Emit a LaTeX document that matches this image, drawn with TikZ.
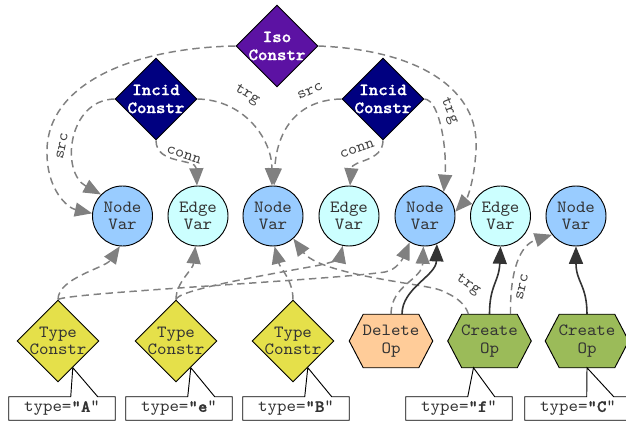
\documentclass[tikz,border=0pt]{standalone}
\usepackage{fontspec}
\setmonofont{lmmono10-regular.otf}[FakeStretch=1.06, BoldFont=lmmonolt10-bold.otf,
  BoldFeatures={FakeBold=1.2}]
\usetikzlibrary{shapes.geometric,arrows.meta,calc,backgrounds}

\definecolor{isoC}{HTML}{5C12A3}
\definecolor{incC}{HTML}{000080}
\definecolor{nodeC}{HTML}{99CCFF}
\definecolor{edgeC}{HTML}{CCFFFF}
\definecolor{typeC}{HTML}{E5E04A}
\definecolor{delC}{HTML}{FFCC99}
\definecolor{creC}{HTML}{9BBB59}
\definecolor{lineC}{HTML}{808080}
\definecolor{darkC}{HTML}{333333}
\definecolor{txtC}{HTML}{333333}
\definecolor{elabC}{HTML}{404040}

\tikzset{
  base/.style={font=\ttfamily\fontsize{12.8}{13.2}\selectfont, text=txtC},
  var/.style={circle, draw=black, line width=0.7pt, minimum size=45pt,
    inner sep=0pt, align=center, base},
  nvar/.style={var, fill=nodeC},
  evar/.style={var, fill=edgeC},
  cons/.style={diamond, draw=black, line width=0.7pt, minimum width=61.5pt,
    minimum height=61.5pt, inner sep=-6pt, align=center, base},
  boldcons/.style={cons, text=white,
    font=\ttfamily\bfseries\fontsize{12.8}{13.5}\selectfont},
  isoc/.style={boldcons, fill=isoC},
  incid/.style={boldcons, fill=incC},
  typec/.style={cons, fill=typeC},
  opnode/.style={rectangle, minimum width=62.25pt, minimum height=39.75pt,
    inner sep=0pt, align=center, base},
  hexline/.style={draw=black, line width=0.7pt},
  tagbox/.style={rectangle, minimum width=79.5pt, minimum height=17.25pt,
    inner sep=0pt, base},
  tagline/.style={draw=black, line width=0.7pt, fill=white},
  tip/.style={-{Triangle[length=13pt,width=10.5pt]}},
  ref/.style={draw=lineC, line width=1.1pt, dash pattern=on 5.5pt off 3.5pt, tip},
  act/.style={draw=darkC, line width=1.2pt, tip},
  elab/.style={font=\ttfamily\fontsize{12}{12}\selectfont, text=elabC, inner sep=1pt},
}

\begin{document}
\begin{tikzpicture}[x=0.75pt, y=-0.75pt]
\useasboundingbox (0,0) rectangle (626,424);

% constraints
\node[isoc]  (iso) at (277,46) {Iso\\Constr};
\node[incid] (ic1) at (156,99) {Incid\\Constr};
\node[incid] (ic2) at (383,99) {Incid\\Constr};

% variables
\node[nvar] (nv1) at (122.5,216) {Node\\Var};
\node[evar] (ev2) at (198,216)   {Edge\\Var};
\node[nvar] (nv3) at (273,216)   {Node\\Var};
\node[evar] (ev4) at (349,216)   {Edge\\Var};
\node[nvar] (nv5) at (425,216)   {Node\\Var};
\node[evar] (ev6) at (500.5,216) {Edge\\Var};
\node[nvar] (nv7) at (576,216)   {Node\\Var};

% type constraints and operations
\node[typec] (tc1) at (58,341)  {Type\\Constr};
\node[typec] (tc2) at (176,341) {Type\\Constr};
\node[typec] (tc3) at (293,341) {Type\\Constr};
\node[opnode] (do)  at (391,341)   {Delete\\Op};
\node[opnode] (co1) at (489.5,341) {Create\\Op};
\node[opnode] (co2) at (587,341)   {Create\\Op};

% type tags
\node[tagbox] (bA) at (62,408.5)  {type=\textbf{"A}"};
\node[tagbox] (be) at (179,408.5) {type=\textbf{"e}"};
\node[tagbox] (bB) at (296,408.5) {type=\textbf{"B}"};
\node[tagbox] (bf) at (459,408.5) {type=\textbf{"f}"};
\node[tagbox] (bC) at (578,408.5) {type=\textbf{"C}"};

\coordinate (tA) at (tc1.-61);
\coordinate (te) at (tc2.-61);
\coordinate (tB) at (tc3.-61);
\coordinate (tf) at ($(co1.south)+(-16,0)$);
\coordinate (tC) at (co2.south);

\begin{scope}[on background layer]
  \fill[white] (0,0) rectangle (626,424);
  \draw[hexline, fill=delC] (do.west) -- ($(do.north west)+(14,0)$) -- ($(do.north east)+(-14,0)$)
    -- (do.east) -- ($(do.south east)+(-14,0)$) -- ($(do.south west)+(14,0)$) -- cycle;
  \draw[hexline, fill=creC] (co1.west) -- ($(co1.north west)+(14,0)$) -- ($(co1.north east)+(-14,0)$)
    -- (co1.east) -- ($(co1.south east)+(-14,0)$) -- ($(co1.south west)+(14,0)$) -- cycle;
  \draw[hexline, fill=creC] (co2.west) -- ($(co2.north west)+(14,0)$) -- ($(co2.north east)+(-14,0)$)
    -- (co2.east) -- ($(co2.south east)+(-14,0)$) -- ($(co2.south west)+(14,0)$) -- cycle;
  \foreach \b/\t in {bA/tA, be/te, bB/tB, bf/tf, bC/tC}
    \draw[tagline] ($(\b.north west)+(62,0)$) -- (\b.north west) -- (\b.south west)
      -- (\b.south east) -- (\b.north east) -- ($(\b.north west)+(89,0)$) -- (\t) -- cycle;
\end{scope}

% isomorphism constraint
\draw[ref] (iso.west) .. controls (130,48) and (48,85) .. (47,150)
  .. controls (46,190) and (68,208) .. (nv1.175);
\draw[ref] (iso.east) .. controls (420,50) and (480,90) .. (476,150)
  .. controls (474,185) and (466,200) .. (nv5.8);

% incidence constraints
\draw[ref] (ic1.west) .. controls (68,100) and (60,172) .. (nv1.135);
\draw[ref] (ic1.east) .. controls (245,100) and (272,140) .. (nv3.92);
\draw[ref] (ic1.south) .. controls (156,165) and (196,158) .. (ev2.92);
\draw[ref] (ic2.west) .. controls (290,100) and (276,140) .. (nv3.88);
\draw[ref] (ic2.east) .. controls (440,100) and (447,150) .. (nv5.52);
\draw[ref] (ic2.south) .. controls (383,162) and (352,160) .. (ev4.88);

\node[elab, rotate=79]  (lsrc1)  at (62,146)  {src};
\node[elab, rotate=-32] (ltrg1)  at (247,95)  {trg};
\node[elab, rotate=-18] (lconn1) at (184,155) {conn};
\node[elab, rotate=25]  (lsrc2)  at (310,91)  {src};
\node[elab, rotate=-68] (ltrg2)  at (449,111) {trg};
\node[elab, rotate=19]  (lconn2) at (357,149) {conn};

% type constraints
\draw[ref] (tc1.north) .. controls (58,278) and (105,268) .. (nv1.-95);
\draw[ref] (tc1.north) .. controls (65,293) and (330,280) .. (385,272)
  .. controls (397,270) and (403,258) .. (nv5.240);
\draw[ref] (tc2.north) .. controls (176,282) and (193,270) .. (ev2.-95);
\draw[ref] (tc2.north) .. controls (178,290) and (260,276) .. (315,266)
  .. controls (332,263) and (340,258) .. (ev4.258);
\draw[ref] (tc3.north) .. controls (293,280) and (280,268) .. (nv3.-87);

% operations
\draw[ref] ($(co1.north)+(-21,0)$) .. controls (465,303) and (455,296) .. (440,290)
  .. controls (425,284) and (320,275) .. (nv3.-48);
\draw[ref] ($(co1.north)+(21,0)$) .. controls (510,270) and (520,245) .. (nv7.218);
\draw[act] (co1.north) .. controls (489.5,285) and (499,282) .. (ev6.south);
\draw[act] (co2.north) .. controls (587,285) and (576,282) .. (nv7.south);
\draw[ref] (do.north) .. controls (391,285) and (422,280) .. (nv5.-93);
\draw[act] ($(do.north)+(11,0)$) .. controls (402,288) and (436,276) .. (nv5.-67);

\node[elab, rotate=-35] (ltrg3) at (468,285) {trg};
\node[elab, rotate=77]  (lsrc3) at (522,287) {src};
\end{tikzpicture}
\end{document}
